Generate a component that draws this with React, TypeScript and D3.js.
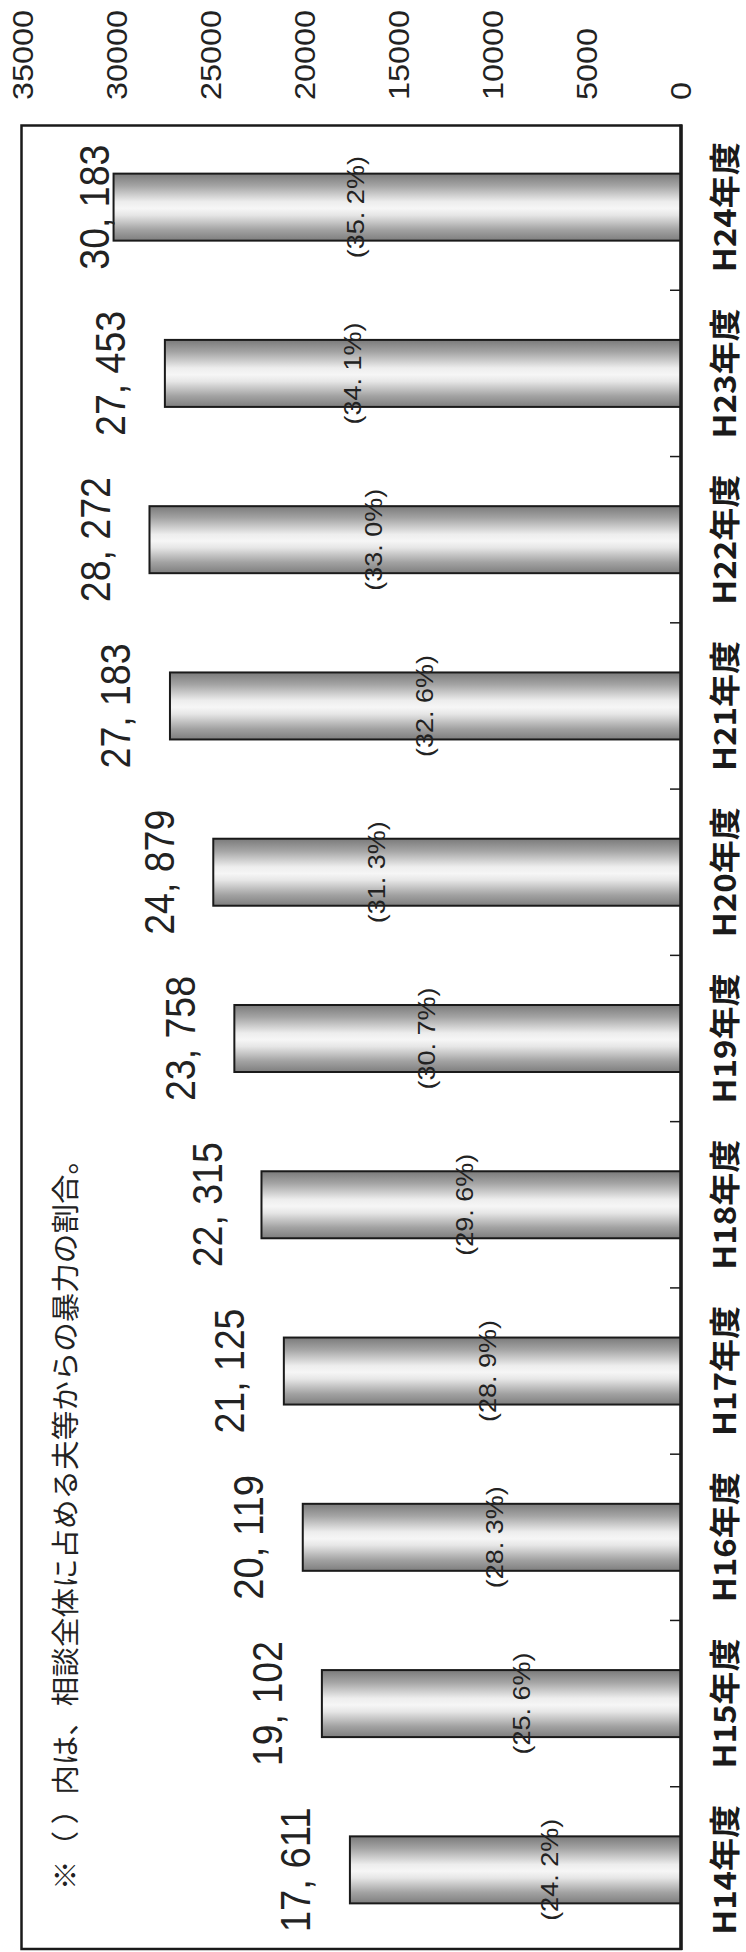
import React from "react";
import * as d3 from "d3";

const categories = ["H14年度", "H15年度", "H16年度", "H17年度", "H18年度", "H19年度", "H20年度", "H21年度", "H22年度", "H23年度", "H24年度"];
const counts = [17611, 19102, 20119, 21125, 22315, 23758, 24879, 27183, 28272, 27453, 30183];
const shares = [24.2, 25.6, 28.3, 28.9, 29.6, 30.7, 31.3, 32.6, 33.0, 34.1, 35.2];
// where each share label sits (in value units)
const shareLabelAt = [7000, 8500, 9950, 10300, 11500, 13550, 16200, 13650, 16350, 17500, 17300];
const valueTicks = [0, 5000, 10000, 15000, 20000, 25000, 30000, 35000];
const note = "※（ ）内は、相談全体に占める夫等からの暴力の割合。";

const W = 746;
const H = 1952;
const SANS = "'Liberation Sans', Arial, 'Noto Sans CJK JP', sans-serif";
const CJK = "'Noto Sans CJK JP', 'Noto Sans CJK SC', sans-serif";

export default function App() {
  const x = d3.scaleLinear().domain([0, 35000]).range([681, 23]);
  const order = [...categories].reverse();
  const y = d3.scaleBand<string>().domain(order).range([124, 1953]).paddingInner(0.597).paddingOuter(0.2985);
  const step = y.step();
  const bw = y.bandwidth();
  const fmtCount = (v: number) => d3.format(",")(v).replace(",", ", ");
  const fmtShare = (v: number) => "(" + v.toFixed(1).replace(".", ". ") + "%)";

  return (
    <svg width={W} height={H} style={{ position: "absolute", left: 0, top: 0, display: "block", background: "#fff" }}>
      <defs>
        <linearGradient id="barGrad" x1="0" y1="0" x2="0" y2="1">
          <stop offset="0" stopColor="#7a7a7a" />
          <stop offset="0.18" stopColor="#a4a4a4" />
          <stop offset="0.42" stopColor="#ededed" />
          <stop offset="0.52" stopColor="#f6f6f6" />
          <stop offset="0.62" stopColor="#e6e6e6" />
          <stop offset="0.84" stopColor="#a2a2a2" />
          <stop offset="1" stopColor="#7e7e7e" />
        </linearGradient>
      </defs>

      {/* value axis tick labels (top) */}
      {valueTicks.map((t) => {
        const s = String(t);
        return (
          <text
            key={"t" + t}
            transform={`translate(${x(t)},100) rotate(-90)`}
            textAnchor="start"
            dy="0.36em"
            fontFamily={SANS}
            fontSize={29}
            textLength={18 * s.length}
            lengthAdjust="spacingAndGlyphs"
            fill="#222"
          >
            {s}
          </text>
        );
      })}

      {/* plot frame */}
      <rect x={21.5} y={125.5} width={681 - 21.5} height={1949 - 125.5} fill="none" stroke="#1a1a1a" strokeWidth={2.5} />

      {/* bars */}
      {categories.map((c, i) => {
        const y0 = y(c) as number;
        const x0 = x(counts[i]);
        return (
          <rect
            key={"b" + c}
            x={x0}
            y={y0}
            width={x(0) - x0}
            height={bw}
            fill="url(#barGrad)"
            stroke="#1a1a1a"
            strokeWidth={2}
          />
        );
      })}

      {/* category axis line (right) */}
      <line x1={681} x2={681} y1={124.5} y2={1950} stroke="#1a1a1a" strokeWidth={3.5} />
      {order.slice(1).map((c) => {
        const yb = (y(c) as number) - (step * y.paddingInner()) / 2;
        return <line key={"k" + c} x1={670} x2={681} y1={yb} y2={yb} stroke="#1a1a1a" strokeWidth={1.5} />;
      })}

      {/* share labels */}
      {categories.map((c, i) => {
        const yc = (y(c) as number) + bw / 2;
        return (
          <text
            key={"p" + c}
            transform={`translate(${x(shareLabelAt[i])},${yc}) rotate(-90)`}
            textAnchor="middle"
            dy="0.36em"
            fontFamily={SANS}
            fontSize={24}
            textLength={102}
            lengthAdjust="spacingAndGlyphs"
            fill="#222"
          >
            {fmtShare(shares[i])}
          </text>
        );
      })}

      {/* count labels */}
      {categories.map((c, i) => {
        const yc = (y(c) as number) + bw / 2;
        const cx = Math.max(x(counts[i]) - 55, 94);
        return (
          <text
            key={"v" + c}
            transform={`translate(${cx},${yc}) rotate(-90)`}
            textAnchor="middle"
            dy="0.36em"
            fontFamily={SANS}
            fontSize={43}
            textLength={125}
            lengthAdjust="spacingAndGlyphs"
            fill="#222"
          >
            {fmtCount(counts[i])}
          </text>
        );
      })}

      {/* category labels (right) */}
      {categories.map((c) => {
        const yc = (y(c) as number) + bw / 2;
        return (
          <text
            key={"c" + c}
            transform={`translate(725,${yc}) rotate(-90)`}
            textAnchor="middle"
            dy="0.36em"
            fontFamily={CJK}
            fontWeight={700}
            fontSize={31}
            textLength={130}
            lengthAdjust="spacingAndGlyphs"
            fill="#1a1a1a"
          >
            {c}
          </text>
        );
      })}

      {/* note */}
      <text
        transform={`translate(66,1890) rotate(-90)`}
        textAnchor="start"
        dy="0.36em"
        fontFamily={CJK}
        fontSize={28}
        textLength={745}
        lengthAdjust="spacingAndGlyphs"
        fill="#222"
      >
        {note}
      </text>
    </svg>
  );
}
